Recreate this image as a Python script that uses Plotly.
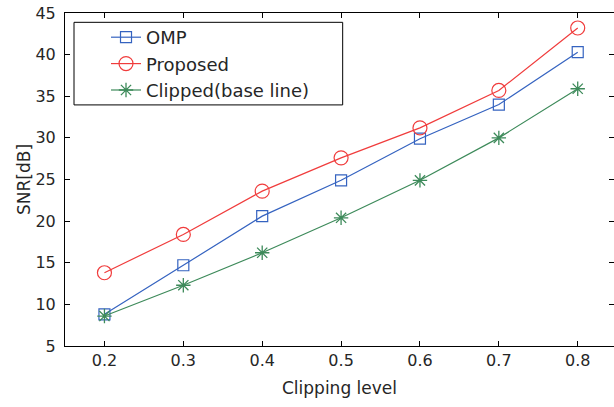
import plotly.graph_objects as go

clip_levels = [0.2, 0.3, 0.4, 0.5, 0.6, 0.7, 0.8]
snr_omp = [8.8, 14.7, 20.6, 24.9, 29.9, 34.0, 40.3]
snr_proposed = [13.8, 18.4, 23.6, 27.6, 31.2, 35.7, 43.2]
snr_clipped = [8.6, 12.3, 16.2, 20.4, 24.9, 30.0, 35.9]

FONT = "DejaVu Sans"

fig = go.Figure()
fig.add_trace(go.Scatter(x=clip_levels, y=snr_omp, name="OMP", mode="lines+markers",
                         line=dict(color="#3563c0", width=1.2),
                         marker=dict(symbol="square-open", size=11, color="#3563c0", line=dict(width=1.2))))
fig.add_trace(go.Scatter(x=clip_levels, y=snr_proposed, name="Proposed", mode="lines+markers",
                         line=dict(color="#f03c3c", width=1.2),
                         marker=dict(symbol="circle-open", size=14, color="#f03c3c", line=dict(width=1.2))))
fig.add_trace(go.Scatter(x=clip_levels, y=snr_clipped, name="Clipped(base line)", mode="lines+markers",
                         line=dict(color="#3d8a5a", width=1.2),
                         marker=dict(symbol="asterisk-open", size=12, color="#3d8a5a", line=dict(width=1.3, color="#3d8a5a"))))

axis_common = dict(showgrid=False, zeroline=False, showline=True, linecolor="black", linewidth=1,
                   mirror="ticks", ticks="inside", ticklen=5, tickcolor="black", automargin=False,
                   ticklabeloverflow="allow",
                   tickfont=dict(family=FONT, size=16, color="#262626"))

fig.update_layout(
    width=614, height=407,
    margin=dict(l=65, r=0, t=13, b=61),
    paper_bgcolor="white", plot_bgcolor="white",
    font=dict(family=FONT, color="#262626"),
    xaxis=dict(range=[0.15, 0.846], tickvals=clip_levels, ticktext=["0.2", "0.3", "0.4", "0.5", "0.6", "0.7", "0.8"],
               title=dict(text="Clipping level", font=dict(family=FONT, size=17), standoff=12), **axis_common),
    yaxis=dict(range=[5, 45], tickvals=[5, 10, 15, 20, 25, 30, 35, 40, 45], ticklabelstandoff=5,
               title=dict(text="SNR[dB]", font=dict(family=FONT, size=17), standoff=0), **axis_common),
    legend=dict(x=0.0747, y=0.982, xanchor="left", yanchor="top",
                bgcolor="rgba(0,0,0,0)", borderwidth=0,
                font=dict(family=FONT, size=18, color="#262626"),
                tracegroupgap=0),
    shapes=[dict(type="rect", xref="paper", yref="paper", x0=0.0164, x1=0.5058, y0=0.724, y1=0.972,
                 line=dict(color="black", width=1), fillcolor="rgba(0,0,0,0)", layer="above")],
)

fig.write_html("out.html", config={"displayModeBar": False},
               post_script="document.body.style.margin='0';")
